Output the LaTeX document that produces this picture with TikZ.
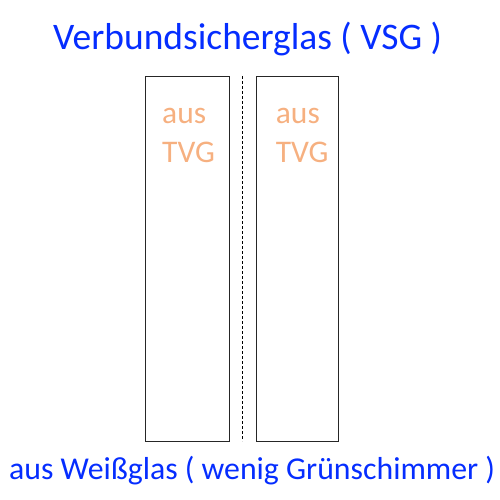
\documentclass[tikz,border=0pt]{standalone}
\usepackage{fontspec}
\setmainfont{Carlito}
\definecolor{tblue}{RGB}{5,45,255}
\definecolor{torange}{RGB}{246,176,128}
\tikzset{
  glass/.style={draw=black!85, line width=0.9pt},
  title/.style={text=tblue, font=\fontsize{37.5}{42}\selectfont, inner sep=0pt, anchor=base west},
  label/.style={text=torange, font=\fontsize{31.5}{38}\selectfont, inner sep=0pt, anchor=base west},
  sep/.style={draw=black, dashed, dash pattern=on 3pt off 2pt, line width=0.8pt}
}
\begin{document}
\begin{tikzpicture}[x=1pt,y=-1pt]
\useasboundingbox (0,0) rectangle (500,500);
\node[title] (t) at (53,49.3) {Verbundsicherglas ( VSG )};
\draw[glass] (145,76) rectangle (229,441);
\draw[glass] (256,76) rectangle (338.5,441);
\coordinate (d1) at (242.3,76);
\coordinate (d2) at (242.3,441);
\draw[sep] (d1) -- (d2);
\node[label] (a1) at (162,124) {aus};
\node[label] (v1) at (162,162) {TVG};
\node[label] (a2) at (275.7,124) {aus};
\node[label] (v2) at (275.7,162) {TVG};
\node[title, font=\fontsize{31.8}{38}\selectfont] (b) at (9,479) {aus Weißglas ( wenig Grünschimmer )};
\end{tikzpicture}
\end{document}
